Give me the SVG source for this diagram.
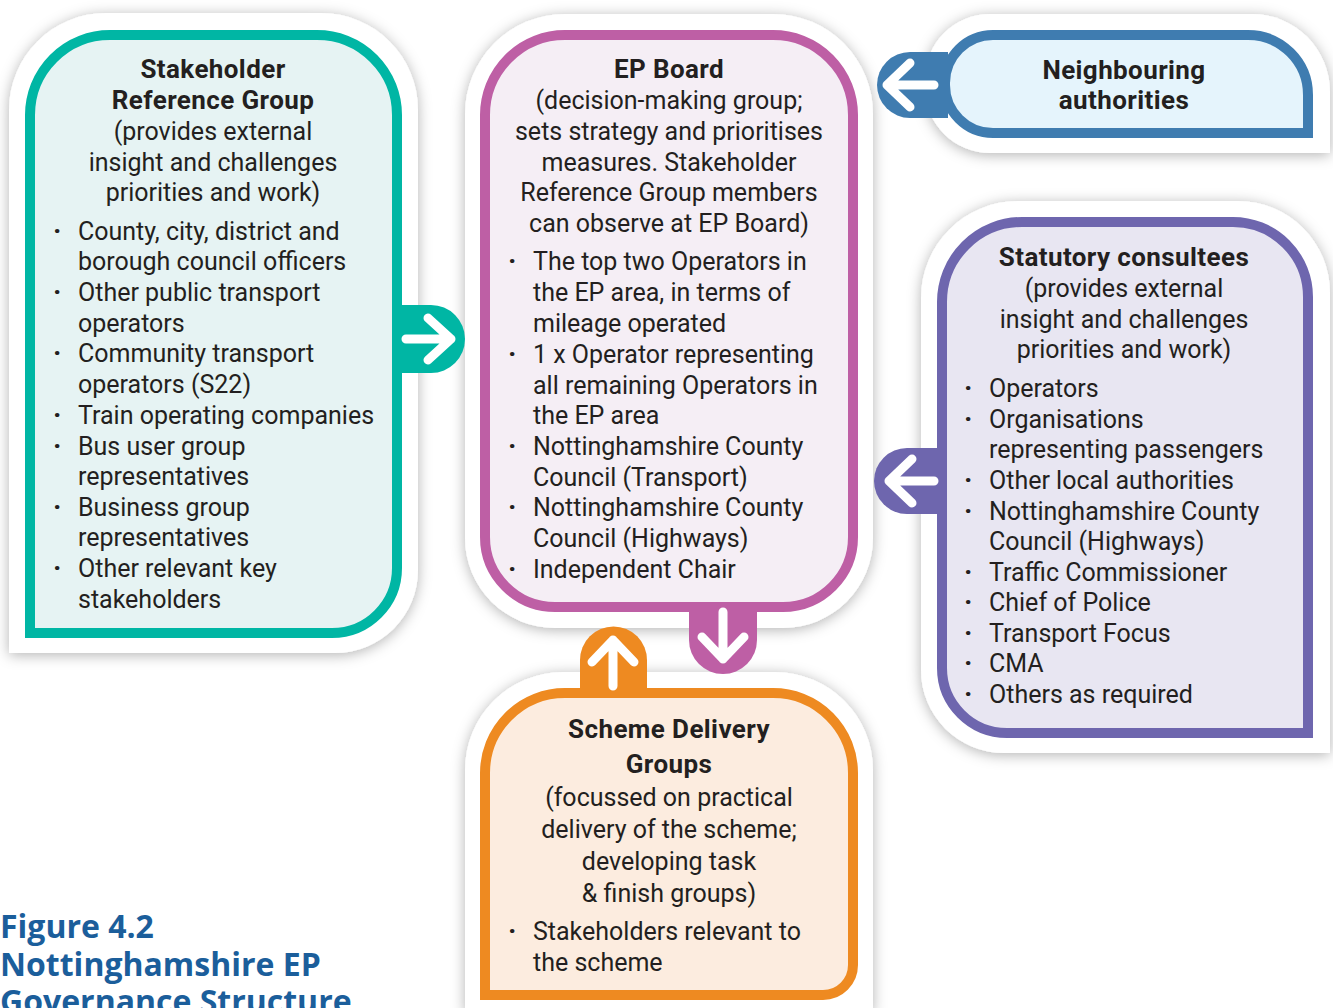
<svg xmlns="http://www.w3.org/2000/svg" width="1333" height="1008" viewBox="0 0 1333 1008">
<defs>
<filter id="sh" x="-20%" y="-20%" width="140%" height="140%">
<feDropShadow dx="0" dy="2" stdDeviation="7" flood-color="#000" flood-opacity="0.3"/>
</filter>
<style>
.halo{fill:#fff;filter:url(#sh)}
.box{stroke-width:10}
.t{font-family:Roboto,"Liberation Sans",sans-serif;font-size:25px;fill:#231F20}
.h{font-weight:bold;font-size:26px;letter-spacing:0.4px}
.c{text-anchor:middle}
.d{font-size:28px;font-weight:bold}
.arr{fill:none;stroke:#fff;stroke-width:9;stroke-linecap:round;stroke-linejoin:round}
.fig{font-family:"Open Sans","Liberation Sans",sans-serif;font-weight:bold;font-size:32px;fill:#1B5E9B}
</style>
</defs>
<rect width="1333" height="1008" fill="#fff"/>

<g id="stakeholder-reference-group">
<path class="halo" d="M9,653 V110 A97,97 0 0 1 106,13 H321 A97,97 0 0 1 418,110 V570 A83,83 0 0 1 335,653 Z"/>
<path class="box" fill="#E6F3F3" stroke="#00B6A4" d="M30,633 V115 A80,80 0 0 1 110,35 H317 A80,80 0 0 1 397,115 V568 A65,65 0 0 1 332,633 Z"/>
<g class="t">
<text class="h c" x="213" y="78">Stakeholder</text>
<text class="h c" x="213" y="109">Reference Group</text>
<text class="c" x="213" y="140">(provides external</text>
<text class="c" x="213" y="171">insight and challenges</text>
<text class="c" x="213" y="201">priorities and work)</text>
<text class="d" x="53" y="240">·</text><text x="78" y="240">County, city, district and</text>
<text x="78" y="270">borough council officers</text>
<text class="d" x="53" y="301">·</text><text x="78" y="301">Other public transport</text>
<text x="78" y="332">operators</text>
<text class="d" x="53" y="362">·</text><text x="78" y="362">Community transport</text>
<text x="78" y="393">operators (S22)</text>
<text class="d" x="53" y="424">·</text><text x="78" y="424">Train operating companies</text>
<text class="d" x="53" y="455">·</text><text x="78" y="455">Bus user group</text>
<text x="78" y="485">representatives</text>
<text class="d" x="53" y="516">·</text><text x="78" y="516">Business group</text>
<text x="78" y="546">representatives</text>
<text class="d" x="53" y="577">·</text><text x="78" y="577">Other relevant key</text>
<text x="78" y="608">stakeholders</text>
</g>
</g>

<g id="ep-board">
<path class="halo" d="M465,114 A100,100 0 0 1 565,14 H773 A100,100 0 0 1 873,114 V538 A90,90 0 0 1 783,628 H555 A90,90 0 0 1 465,538 Z"/>
<path class="box" fill="#F5EEF5" stroke="#BE5FA5" d="M485,115 A80,80 0 0 1 565,35 H773 A80,80 0 0 1 853,115 V537 A70,70 0 0 1 783,607 H555 A70,70 0 0 1 485,537 Z"/>
<g class="t">
<text class="h c" x="669" y="78">EP Board</text>
<text class="c" x="669" y="109">(decision-making group;</text>
<text class="c" x="669" y="140">sets strategy and prioritises</text>
<text class="c" x="669" y="171">measures. Stakeholder</text>
<text class="c" x="669" y="201">Reference Group members</text>
<text class="c" x="669" y="232">can observe at EP Board)</text>
<text class="d" x="508" y="270">·</text><text x="533" y="270">The top two Operators in</text>
<text x="533" y="301">the EP area, in terms of</text>
<text x="533" y="332">mileage operated</text>
<text class="d" x="508" y="363">·</text><text x="533" y="363">1 x Operator representing</text>
<text x="533" y="394">all remaining Operators in</text>
<text x="533" y="424">the EP area</text>
<text class="d" x="508" y="455">·</text><text x="533" y="455">Nottinghamshire County</text>
<text x="533" y="486">Council (Transport)</text>
<text class="d" x="508" y="516">·</text><text x="533" y="516">Nottinghamshire County</text>
<text x="533" y="547">Council (Highways)</text>
<text class="d" x="508" y="578">·</text><text x="533" y="578">Independent Chair</text>
</g>
</g>

<g id="neighbouring-authorities">
<path class="halo" d="M925,79 A65,65 0 0 1 990,14 H1252 A78,78 0 0 1 1330,92 V153 H990 A65,65 0 0 1 925,88 Z"/>
<path class="box" fill="#E5F4FC" stroke="#3F7CB0" d="M945,83 A48,48 0 0 1 993,35 H1248 A60,60 0 0 1 1308,95 V133 H993 A48,48 0 0 1 945,85 Z"/>
<g class="t">
<text class="h c" x="1124" y="79">Neighbouring</text>
<text class="h c" x="1124" y="109">authorities</text>
</g>
</g>

<g id="statutory-consultees">
<path class="halo" d="M921,298 A97,97 0 0 1 1018,201 H1238 A92,92 0 0 1 1330,293 V753 H1004 A83,83 0 0 1 921,670 Z"/>
<path class="box" fill="#E8E6F2" stroke="#6E66AE" d="M942,302 A80,80 0 0 1 1022,222 H1233 A75,75 0 0 1 1308,297 V733 H1007 A65,65 0 0 1 942,668 Z"/>
<g class="t">
<text class="h c" x="1124" y="266">Statutory consultees</text>
<text class="c" x="1124" y="297">(provides external</text>
<text class="c" x="1124" y="328">insight and challenges</text>
<text class="c" x="1124" y="358">priorities and work)</text>
<text class="d" x="964" y="397">·</text><text x="989" y="397">Operators</text>
<text class="d" x="964" y="428">·</text><text x="989" y="428">Organisations</text>
<text x="989" y="458">representing passengers</text>
<text class="d" x="964" y="489">·</text><text x="989" y="489">Other local authorities</text>
<text class="d" x="964" y="520">·</text><text x="989" y="520">Nottinghamshire County</text>
<text x="989" y="550">Council (Highways)</text>
<text class="d" x="964" y="581">·</text><text x="989" y="581">Traffic Commissioner</text>
<text class="d" x="964" y="611">·</text><text x="989" y="611">Chief of Police</text>
<text class="d" x="964" y="642">·</text><text x="989" y="642">Transport Focus</text>
<text class="d" x="964" y="672">·</text><text x="989" y="672">CMA</text>
<text class="d" x="964" y="703">·</text><text x="989" y="703">Others as required</text>
</g>
</g>

<g id="scheme-delivery-groups">
<path class="halo" d="M465,1012 V770 A98,98 0 0 1 563,672 H775 A98,98 0 0 1 873,770 V1012 Z"/>
<path class="box" fill="#FCECDF" stroke="#EE8A21" d="M485,995 V773 A80,80 0 0 1 565,693 H773 A80,80 0 0 1 853,773 V965 A30,30 0 0 1 823,995 Z"/>
<g class="t">
<text class="h c" x="669" y="738">Scheme Delivery</text>
<text class="h c" x="669" y="773">Groups</text>
<text class="c" x="669" y="806">(focussed on practical</text>
<text class="c" x="669" y="838">delivery of the scheme;</text>
<text class="c" x="669" y="870">developing task</text>
<text class="c" x="669" y="902">&amp; finish groups)</text>
<text class="d" x="508" y="940">·</text><text x="533" y="940">Stakeholders relevant to</text>
<text x="533" y="971">the scheme</text>
</g>
</g>

<g id="connectors">
<path fill="#00B6A4" d="M400,305 H431 A34,34 0 0 1 431,373 H400 Z"/>
<path class="arr" d="M406,339 H451 M428,318 L451,339 L428,360"/>
<path fill="#6E66AE" d="M940,448 H907 A33,33 0 0 0 907,514 H940 Z"/>
<path class="arr" d="M934,481 H889 M912,459 L889,481 L912,503"/>
<path fill="#3F7CB0" d="M948,52 H910 A33,33 0 0 0 910,118 H948 Z"/>
<path class="arr" d="M934,85 H887 M910,63 L887,85 L910,107"/>
<path fill="#BE5FA5" d="M689,605 V640 A34,34 0 0 0 757,640 V605 Z"/>
<path class="arr" d="M723,612 V659 M702,637 L723,659 L744,637"/>
<path fill="#EE8A21" d="M580,695 V660 A33.5,33.5 0 0 1 647,660 V695 Z"/>
<path class="arr" d="M613,686 V640 M592,662 L613,640 L634,662"/>
</g>

<g id="figure-title">
<text class="fig" x="0" y="938">Figure 4.2</text>
<text class="fig" x="0" y="976">Nottinghamshire EP</text>
<text class="fig" x="0" y="1013">Governance Structure</text>
</g>
</svg>
